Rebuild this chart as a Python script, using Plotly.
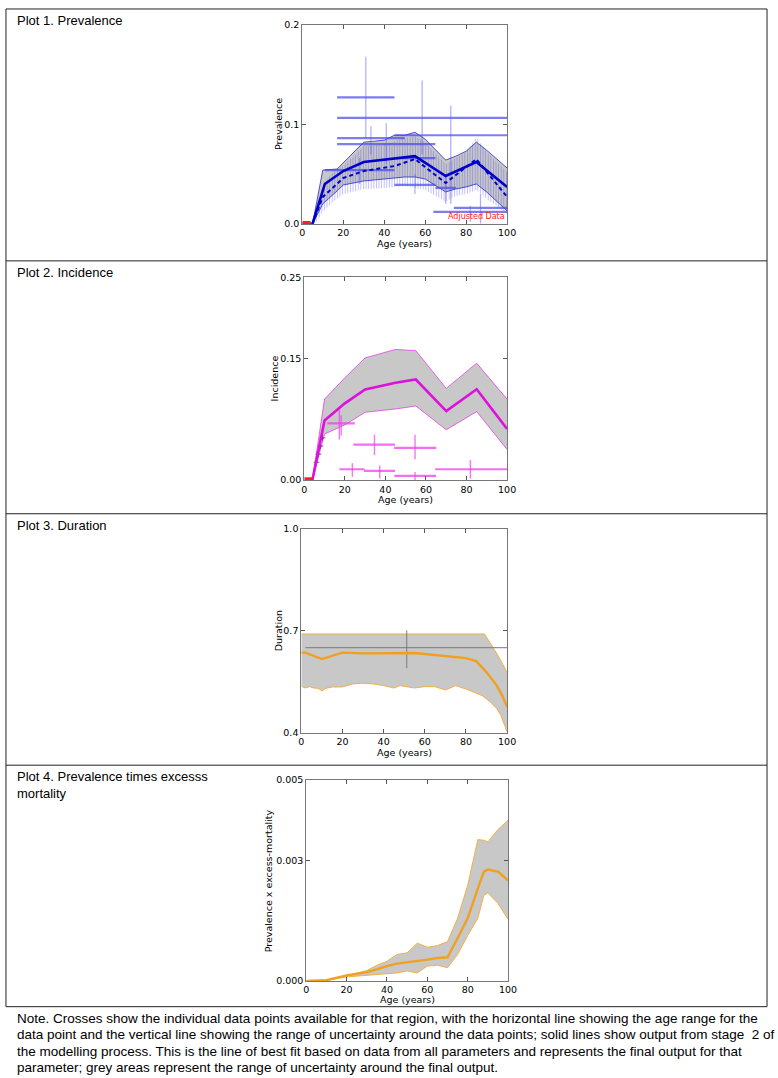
import plotly.graph_objects as go

W, H = 778, 1078

# ---------------- Plot 1: Prevalence ----------------
p1_mean_age = [0, 5, 11, 20, 30, 45, 55, 70, 85, 100]
p1_mean_val = [0.0, 0.0, 0.040, 0.053, 0.062, 0.066, 0.068, 0.048, 0.062, 0.037]
p1_dash_age = [5, 10, 20, 30, 45, 55, 70, 85, 100]
p1_dash_val = [0.0, 0.027, 0.046, 0.053, 0.058, 0.065, 0.041, 0.065, 0.027]
p1_band_age = [5, 10, 17, 20, 30, 40, 45, 50, 55, 60, 70, 75, 80, 85, 90, 100]
p1_band_hi = [0.0, 0.054, 0.055, 0.061, 0.082, 0.084, 0.089, 0.089, 0.092, 0.085, 0.064, 0.068, 0.073, 0.082, 0.074, 0.056]
p1_band_lo = [0.0, 0.020, 0.033, 0.039, 0.043, 0.045, 0.046, 0.047, 0.047, 0.045, 0.032, 0.035, 0.037, 0.040, 0.032, 0.013]
p1_hatch_age = [6, 8, 10, 15, 20, 30, 40, 50, 55, 60, 70, 75, 80, 85, 90, 100]
p1_hatch_hi = [0.004, 0.020, 0.040, 0.052, 0.058, 0.078, 0.080, 0.086, 0.088, 0.082, 0.060, 0.066, 0.072, 0.087, 0.072, 0.052]
p1_hatch_lo = [0.0, 0.005, 0.012, 0.022, 0.030, 0.035, 0.036, 0.038, 0.036, 0.034, 0.022, 0.028, 0.030, 0.034, 0.025, 0.010]
p1_h_lo = [17, 17, 17, 45, 17, 11, 45, 45, 65, 64, 74]
p1_h_hi = [45, 100, 50, 100, 65, 45, 65, 65, 75, 100, 100]
p1_h_val = [0.127, 0.1065, 0.086, 0.089, 0.080, 0.054, 0.039, 0.066, 0.036, 0.012, 0.016]
p1_v_age = [31, 58.5, 41, 72.5, 55, 70, 82, 87, 28, 33.5]
p1_v_lo = [0.086, 0.070, 0.060, 0.020, 0.030, 0.020, 0.002, 0.0, 0.040, 0.070]
p1_v_hi = [0.168, 0.144, 0.101, 0.119, 0.050, 0.050, 0.018, 0.030, 0.066, 0.098]

# ---------------- Plot 2: Incidence ----------------
p2_age = [4, 10, 20, 30, 45, 55, 70, 85, 100]
p2_mean = [0.0, 0.0735, 0.0946, 0.1116, 0.120, 0.124, 0.085, 0.112, 0.063]
p2_hi = [0.0, 0.0998, 0.126, 0.1506, 0.161, 0.1595, 0.113, 0.144, 0.0998]
p2_lo = [0.0, 0.0568, 0.068, 0.0836, 0.0877, 0.0913, 0.062, 0.0844, 0.0377]
p2_h_lo = [11.3, 24.2, 44.3, 17.3, 29.4, 44.4, 64.5]
p2_h_hi = [24.9, 44.7, 65.0, 29.7, 44.7, 65.0, 100]
p2_h_val = [0.070, 0.0438, 0.0398, 0.0134, 0.0114, 0.0053, 0.0134]
p2_v_age = [17.3, 18.2, 34.6, 54.6, 23.7, 37.2, 54.6, 81.9]
p2_v_lo = [0.050, 0.055, 0.031, 0.0256, 0.004, 0.0024, 0.0, 0.002]
p2_v_hi = [0.087, 0.080, 0.056, 0.056, 0.0207, 0.018, 0.010, 0.0248]
p2_small_age = [6, 7, 8, 9]
p2_small_val = [0.022, 0.032, 0.042, 0.052]

# ---------------- Plot 3: Duration ----------------
p3_mean_age = [0, 2, 10, 20, 30, 40, 50, 55, 60, 70, 80, 85, 90, 95, 98, 100]
p3_mean = [0.635, 0.635, 0.616, 0.635, 0.633, 0.634, 0.635, 0.634, 0.631, 0.626, 0.619, 0.610, 0.577, 0.538, 0.504, 0.475]
p3_hi_age = [0, 89, 93, 96, 100]
p3_hi = [0.690, 0.690, 0.652, 0.622, 0.577]
p3_lo_age = [0, 2, 4, 6, 8, 10, 12, 15, 20, 25, 30, 35, 40, 45, 48, 52, 55, 60, 65, 70, 75, 80, 85, 88, 92, 95, 97, 100]
p3_lo = [0.536, 0.531, 0.535, 0.531, 0.530, 0.523, 0.530, 0.534, 0.534, 0.543, 0.545, 0.543, 0.538, 0.531, 0.538, 0.535, 0.531, 0.535, 0.535, 0.525, 0.538, 0.528, 0.514, 0.508, 0.489, 0.470, 0.450, 0.402]
p3_h_lo = [2]
p3_h_hi = [100]
p3_h_val = [0.650]
p3_v_age = [51.2]
p3_v_lo = [0.589]
p3_v_hi = [0.701]

# ---------------- Plot 4: Prevalence x excess mortality ----------------
p4_age = [0, 10, 20, 30, 35, 40, 45, 50, 55, 60, 65, 70, 75, 80, 85, 88, 90, 95, 100]
p4_mean = [0.0, 0.00002, 0.00014, 0.00022, 0.00029, 0.00037, 0.00043, 0.00046, 0.00049, 0.00053, 0.00057, 0.00059, 0.00107, 0.00156, 0.00230, 0.00272, 0.00277, 0.00272, 0.00250]
p4_hi = [0.0, 0.00002, 0.00013, 0.00026, 0.00039, 0.00049, 0.00066, 0.00070, 0.00094, 0.00084, 0.00088, 0.00098, 0.00156, 0.00238, 0.00352, 0.00350, 0.00346, 0.00377, 0.00400]
p4_lo = [0.0, 0.00001, 0.00010, 0.00014, 0.00017, 0.00019, 0.00020, 0.00025, 0.00020, 0.00037, 0.00039, 0.00033, 0.00066, 0.00113, 0.00156, 0.00213, 0.00219, 0.00193, 0.00153]

x_ticks = [0, 20, 40, 60, 80, 100]

# pixel boxes of the four axes: (left, right, top, bottom)
boxes = [(304, 512, 19, 220), (306, 512, 274, 479), (303, 512, 528, 734), (308, 513, 782, 985)]
# pixel positions of axis titles: (x-title centre y, y-title centre x)
title_pos = [(240, 280), (499, 276), (754, 280), (1004, 270)]
y_specs = [
    ([0, 0.2], [0, 0.1, 0.2], ["0.0", "0.1", "0.2"], "Prevalence"),
    ([0, 0.25], [0, 0.15, 0.25], ["0.00", "0.15", "0.25"], "Incidence"),
    ([0.4, 1.0], [0.4, 0.7, 1.0], ["0.4", "0.7", "1.0"], "Duration"),
    ([0, 0.005], [0, 0.003, 0.005], ["0.000", "0.003", "0.005"], "Prevalence x excess-mortality"),
]

fig = go.Figure()
GREY = "#c8c8c8"


def segs_h(lo, hi, val):
    xs, ys = [], []
    for a, b, v in zip(lo, hi, val):
        xs += [a, b, None]
        ys += [v, v, None]
    return xs, ys


def segs_v(age, lo, hi):
    xs, ys = [], []
    for a, l, h in zip(age, lo, hi):
        xs += [a, a, None]
        ys += [l, h, None]
    return xs, ys


def band(n, age_lo, lo, age_hi, hi, edge, fill, width=0.8):
    fig.add_trace(go.Scatter(x=age_lo, y=lo, mode="lines", line=dict(color=edge, width=width),
                             xaxis=f"x{n}", yaxis=f"y{n}", showlegend=False, hoverinfo="skip"))
    fig.add_trace(go.Scatter(x=age_hi, y=hi, mode="lines", line=dict(color=edge, width=width),
                             fill="tonexty", fillcolor=fill,
                             xaxis=f"x{n}", yaxis=f"y{n}", showlegend=False, hoverinfo="skip"))


def line(n, x, y, color, width, dash="solid", mode="lines"):
    fig.add_trace(go.Scatter(x=x, y=y, mode=mode, line=dict(color=color, width=width, dash=dash),
                             xaxis=f"x{n}", yaxis=f"y{n}", showlegend=False, hoverinfo="skip"))


# ---- plot 1 ----
band("", p1_band_age, p1_band_lo, p1_band_age, p1_band_hi, "rgba(20,20,200,0.9)", GREY)
fig.add_trace(go.Scatter(x=p1_hatch_age, y=p1_hatch_lo, mode="lines", line=dict(width=0),
                         showlegend=False, hoverinfo="skip"))
fig.add_trace(go.Scatter(x=p1_hatch_age, y=p1_hatch_hi, mode="lines", line=dict(width=0),
                         fill="tonexty", fillcolor="rgba(0,0,0,0)",
                         fillpattern=dict(shape="|", size=2.6, solidity=0.4,
                                          fgcolor="rgba(40,40,235,0.6)", bgcolor="rgba(0,0,0,0)"),
                         showlegend=False, hoverinfo="skip"))
hx, hy = segs_h(p1_h_lo, p1_h_hi, p1_h_val)
line("", hx, hy, "rgba(70,70,235,0.7)", 2.2)
vx, vy = segs_v(p1_v_age, p1_v_lo, p1_v_hi)
line("", vx, vy, "rgba(90,90,250,0.5)", 1.2)
line("", p1_dash_age, p1_dash_val, "#0000c8", 2, dash="4px,3px")
line("", p1_mean_age, p1_mean_val, "#0000c8", 2.6)
line("", [0, 4], [0.0008, 0.0008], "#ff2020", 4)

# ---- plot 2 ----
band(2, p2_age, p2_lo, p2_age, p2_hi, "#e040e0", GREY)
hx, hy = segs_h(p2_h_lo, p2_h_hi, p2_h_val)
line(2, hx, hy, "rgba(240,60,240,0.75)", 2.2)
vx, vy = segs_v(p2_v_age, p2_v_lo, p2_v_hi)
line(2, vx, vy, "rgba(240,60,240,0.7)", 1.4)
fig.add_trace(go.Scatter(x=p2_small_age, y=p2_small_val, mode="markers",
                         marker=dict(symbol="cross-thin", size=4, line=dict(color="#605060", width=1)),
                         xaxis="x2", yaxis="y2", showlegend=False, hoverinfo="skip"))
line(2, p2_age, p2_mean, "#dd10dd", 2.6)
line(2, [0, 4], [0.001, 0.001], "#ff2020", 4)

# ---- plot 3 ----
band(3, p3_lo_age, p3_lo, p3_hi_age, p3_hi, "#f2b040", GREY, width=1)
hx, hy = segs_h(p3_h_lo, p3_h_hi, p3_h_val)
line(3, hx, hy, "rgba(120,120,120,0.8)", 1.3)
vx, vy = segs_v(p3_v_age, p3_v_lo, p3_v_hi)
line(3, vx, vy, "rgba(120,120,120,0.8)", 1.2)
line(3, p3_mean_age, p3_mean, "#f0a020", 2.4)

# ---- plot 4 ----
band(4, p4_age, p4_lo, p4_age, p4_hi, "#f2b040", GREY, width=1)
line(4, p4_age, p4_mean, "#f0a020", 2.4)

# ---- axes ----
TICKFONT = dict(family="DejaVu Sans", size=9.5, color="black")
TITLEFONT = dict(family="DejaVu Sans", size=9.5, color="black")
ann = []
for i, ((l, r, t, b), (rng, tv, tt, title), (xty, ytx)) in enumerate(
        zip(boxes, y_specs, title_pos), start=1):
    sx = "" if i == 1 else str(i)
    fig.layout[f"xaxis{sx}"] = dict(
        domain=[l / W, r / W], range=[0, 100], anchor=f"y{sx}",
        tickvals=x_ticks, ticks="inside", ticklen=4, tickcolor="#555", mirror="ticks",
        showline=True, linecolor="#777", linewidth=1, showgrid=False, zeroline=False,
        tickfont=TICKFONT,
    )
    fig.layout[f"yaxis{sx}"] = dict(
        domain=[1 - b / H, 1 - t / H], range=rng, anchor=f"x{sx}",
        tickvals=tv, ticktext=tt, ticks="inside", ticklen=4, tickcolor="#555", mirror="ticks",
        showline=True, linecolor="#777", linewidth=1, showgrid=False, zeroline=False,
        tickfont=TICKFONT,
    )
    ann.append(dict(text="Age (years)", xref="paper", yref="paper", x=(l + r) / 2 / W,
                    y=1 - xty / H, xanchor="center", yanchor="middle", showarrow=False,
                    font=TITLEFONT))
    ann.append(dict(text=title, xref="paper", yref="paper", x=ytx / W,
                    y=1 - (t + b) / 2 / H, xanchor="center", yanchor="middle", showarrow=False,
                    textangle=-90, font=TITLEFONT))

# ---- frame, titles, note ----
shapes = []
rows = [3, 257.5, 513, 767, 1011]
shapes.append(dict(type="rect", xref="paper", yref="paper", x0=3 / W, x1=776 / W,
                   y0=1 - rows[-1] / H, y1=1 - rows[0] / H, line=dict(color="#222", width=1)))
for yy in rows[1:-1]:
    shapes.append(dict(type="line", xref="paper", yref="paper", x0=3 / W, x1=776 / W,
                       y0=1 - yy / H, y1=1 - yy / H, line=dict(color="#222", width=1)))

TF = dict(family="Liberation Sans", size=13, color="black")
titles = [("Plot 1. Prevalence", 5), ("Plot 2. Incidence", 259.5),
          ("Plot 3. Duration", 515), ("Plot 4. Prevalence times excesss<br>mortality", 769)]
for txt, ytop in titles:
    ann.append(dict(text=txt, xref="paper", yref="paper", x=12 / W, y=1 - ytop / H,
                    xanchor="left", yanchor="top", showarrow=False, align="left", font=TF))
note_lines = [
    "Note. Crosses show the individual data points available for that region, with the horizontal line showing the age range for the",
    "data point and the vertical line showing the range of uncertainty around the data points; solid lines show output from stage  2 of",
    "the modelling process. This is the line of best fit based on data from all parameters and represents the final output for that",
    "parameter; grey areas represent the range of uncertainty around the final output.",
]
NF = dict(family="Liberation Sans", size=13.5, color="black")
for k, txt in enumerate(note_lines):
    yc = 1023 + k * 16.4
    ann.append(dict(text=txt, xref="paper", yref="paper", x=12 / W, y=1 - yc / H,
                    xanchor="left", yanchor="middle", showarrow=False, align="left", font=NF))
ann.append(dict(text="Adjusted Data", xref="x", yref="y", x=100, y=0.001, xanchor="right",
                yanchor="bottom", showarrow=False, font=dict(family="DejaVu Sans", size=8, color="#ff2020")))

fig.update_layout(width=W, height=H, margin=dict(l=0, r=0, t=0, b=0),
                  paper_bgcolor="white", plot_bgcolor="white",
                  shapes=shapes, annotations=ann, showlegend=False)

fig.write_html("out.html", config={"displayModeBar": False},
               post_script="document.body.style.margin='0px';")
